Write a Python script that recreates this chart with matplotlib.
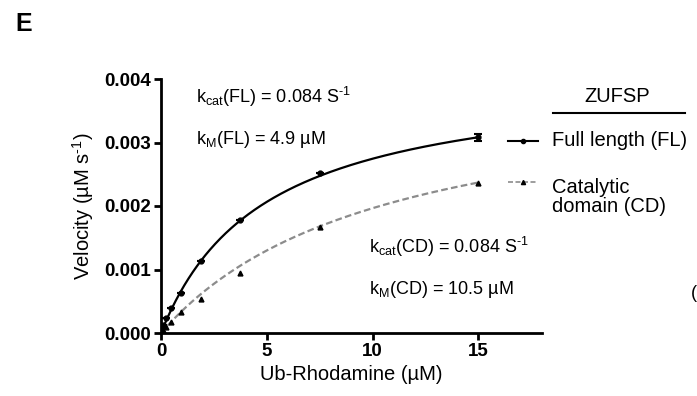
import numpy as np
import matplotlib
matplotlib.use("Agg")
import matplotlib.pyplot as plt
from matplotlib.lines import Line2D

plt.rcParams['font.family'] = ['Liberation Sans', 'DejaVu Sans']
plt.rcParams['mathtext.fontset'] = 'custom'
plt.rcParams['mathtext.rm'] = 'Liberation Sans'
plt.rcParams['mathtext.it'] = 'Liberation Sans'

# Data
substrate = [0.117, 0.234, 0.469, 0.9375, 1.875, 3.75, 7.5, 15]
v_fl = [0.00012, 0.00024, 0.00039, 0.00063, 0.00114, 0.00178, 0.00252, 0.00308]
v_fl_err = [0, 0, 0, 0, 0, 0, 0, 0.00005]
v_cd = [0.00005, 0.00009, 0.00017, 0.00033, 0.00054, 0.00095, 0.00167, 0.00237]
# Michaelis-Menten fit parameters (Vmax in uM/s, Km in uM)
fit_fl = (0.00409, 4.9)
fit_cd = (0.00403, 10.5)
x_ticks = [0, 5, 10, 15]
y_ticks = [0.000, 0.001, 0.002, 0.003, 0.004]

fig = plt.figure(figsize=(6.97, 3.96), dpi=100)
ax = fig.add_axes([161/697, 1-333/396, (542-161)/697, (333-79)/396])

xs = np.linspace(0, 15, 300)
vm, km = fit_fl
ax.plot(xs, vm*xs/(km+xs), color='black', lw=1.6, zorder=3)
vm, km = fit_cd
ax.plot(xs, vm*xs/(km+xs), color='#8c8c8c', lw=1.6, ls=(0, (3, 1.5)), zorder=2)

ax.errorbar(substrate, v_fl, yerr=v_fl_err, fmt='o', color='black', ms=3.5,
            capsize=3, elinewidth=1.5, capthick=1.5, zorder=4)
ax.plot(substrate, v_cd, '^', color='black', ms=3.5, zorder=4)

ax.set_xlim(0, 18)
ax.set_ylim(0, 0.004)
ax.set_xticks(x_ticks)
ax.set_yticks(y_ticks)
ax.set_xticklabels([str(t) for t in x_ticks], fontweight='bold', fontsize=13.5)
ax.set_yticklabels([f"{t:.3f}" for t in y_ticks], fontweight='bold', fontsize=13.5)
ax.tick_params(width=2, length=5, direction='out', pad=2)
for s in ['top', 'right']:
    ax.spines[s].set_visible(False)
for s in ['left', 'bottom']:
    ax.spines[s].set_linewidth(2)

ax.set_xlabel('Ub-Rhodamine (µM)', fontsize=14.5, labelpad=4)
ax.set_ylabel(r'Velocity (µM s$^{\text{-1}}$)', fontsize=14.5, labelpad=6)

fs = 13
def ftxt(x, y, s):
    fig.text(x/697, 1-y/396, s, fontsize=fs, ha='left', va='center')

ftxt(196, 97, r'k$_{\mathregular{cat}}$(FL) = 0.084 S$^{\text{-1}}$')
ftxt(196, 139, r'k$_{\mathregular{M}}$(FL) = 4.9 µM')
ftxt(369, 247, r'k$_{\mathregular{cat}}$(CD) = 0.084 S$^{\text{-1}}$')
ftxt(369, 290, r'k$_{\mathregular{M}}$(CD) = 10.5 µM')

# Legend
fig.text(617/697, 1-96/396, 'ZUFSP', fontsize=14.5, ha='center', va='center')
fig.add_artist(Line2D([553/697, 685/697], [1-113/396, 1-113/396], color='black', lw=1.5,
                      transform=fig.transFigure))
fig.add_artist(Line2D([508/697, 523/697, 538/697], [1-141/396]*3, color='black', lw=1.5,
                      marker='o', ms=3, markevery=[1], transform=fig.transFigure))
fig.add_artist(Line2D([508/697, 523/697, 538/697], [1-182/396]*3, color='#8c8c8c', lw=1.2,
                      ls=(0, (3, 1.5)), marker='^', ms=3, mfc='black', mec='black',
                      markevery=[1], transform=fig.transFigure))
fig.text(552/697, 1-140/396, 'Full length (FL)', fontsize=14.5, ha='left', va='center')
fig.text(552/697, 1-197/396, 'Catalytic\ndomain (CD)', fontsize=14.5, ha='left', va='center',
         linespacing=1.0)

fig.text(15/697, 1-24/396, 'E', fontsize=18, fontweight='bold', ha='left', va='center')
fig.text(691/697, 1-294/396, '(', fontsize=13, ha='left', va='center')

fig.savefig('out.png', dpi=100)
